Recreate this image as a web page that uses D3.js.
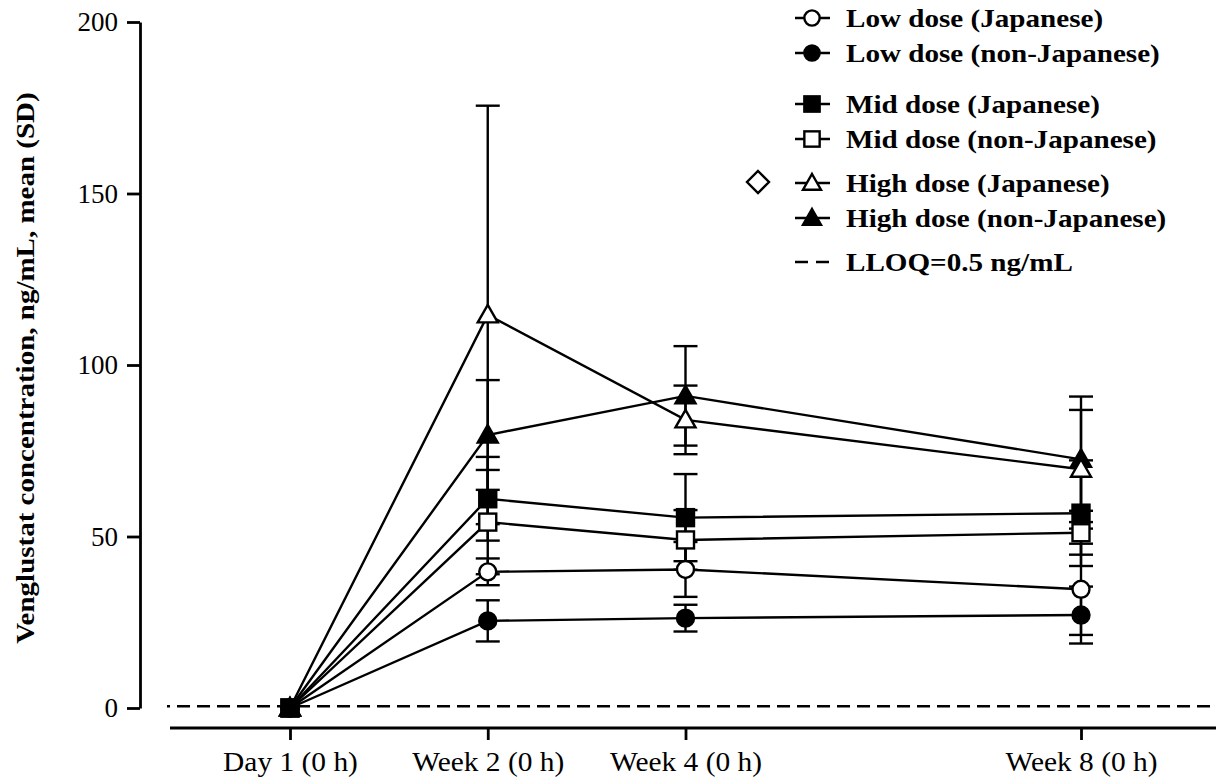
<!DOCTYPE html>
<html><head><meta charset="utf-8">
<script src="https://cdn.jsdelivr.net/npm/d3@7"></script>
<style>
html,body{margin:0;padding:0;background:#fff;}
svg{display:block;}
text{font-family:"Liberation Serif","Times New Roman",serif;fill:#000;}
</style></head>
<body>
<svg id="chart" width="1216" height="784"></svg>
<script>
const categories = ["Day 1 (0 h)", "Week 2 (0 h)", "Week 4 (0 h)", "Week 8 (0 h)"];
const studyDays = [0, 14, 28, 56];
const yTicks = [0, 50, 100, 150, 200];
const lloq = 0.5;

const seriesNames = ["Low dose (Japanese)", "Low dose (non-Japanese)", "Mid dose (Japanese)", "Mid dose (non-Japanese)", "High dose (Japanese)", "High dose (non-Japanese)"];
const lowJMean = [0, 39.7, 40.4, 34.6];
const lowJSD = [0, 3.9, 8.0, 13.3];
const lowNJMean = [0, 25.4, 26.2, 27.1];
const lowNJSD = [0, 6.0, 3.9, 8.3];
const midJMean = [0, 61.0, 55.5, 56.8];
const midJSD = [0, 12.2, 12.7, 15.4];
const midNJMean = [0, 54.2, 49.0, 51.1];
const midNJSD = [0, 15.2, 8.7, 6.4];
const highJMean = [0, 114.6, 84.0, 69.6];
const highJSD = [0, 61.0, 10.0, 17.3];
const highNJMean = [0, 79.6, 91.0, 72.5];
const highNJSD = [0, 16.0, 14.5, 18.3];

const series = [
  {name: seriesNames[0], mean: lowJMean, sd: lowJSD, shape: "circle", fill: "#fff"},
  {name: seriesNames[1], mean: lowNJMean, sd: lowNJSD, shape: "circle", fill: "#000"},
  {name: seriesNames[2], mean: midJMean, sd: midJSD, shape: "square", fill: "#000"},
  {name: seriesNames[3], mean: midNJMean, sd: midNJSD, shape: "square", fill: "#fff"},
  {name: seriesNames[4], mean: highJMean, sd: highJSD, shape: "triangle", fill: "#fff"},
  {name: seriesNames[5], mean: highNJMean, sd: highNJSD, shape: "triangle", fill: "#000"}
];
const drawOrder = [5, 4, 0, 3, 1, 2];

const svg = d3.select("#chart");
const x = d3.scaleLinear().domain([0, 56]).range([290, 1081]);
const y = d3.scaleLinear().domain([0, 200]).range([708, 22]);
const SW = 2.4;

// Y axis
const yAxis = svg.append("g").attr("transform", "translate(140,0)")
  .call(d3.axisLeft(y).tickValues(yTicks).tickSize(13).tickSizeOuter(0).tickPadding(9));
yAxis.select(".domain").attr("stroke-width", SW + 0.4);
yAxis.selectAll(".tick line").attr("stroke-width", SW + 0.4);
yAxis.selectAll(".tick text").attr("font-size", 27).attr("font-family", "Liberation Serif");

// X axis
const xAxisY = 728;
const xAxis = svg.append("g").attr("transform", `translate(0,${xAxisY})`)
  .call(d3.axisBottom(x).tickValues(studyDays).tickFormat((d, i) => categories[i]).tickSize(12).tickSizeOuter(0).tickPadding(12));
xAxis.select(".domain").remove();
xAxis.selectAll(".tick line").attr("stroke-width", SW + 0.4);
xAxis.selectAll(".tick text").attr("font-size", 27).attr("font-family", "Liberation Serif")
  .attr("transform", "scale(1.09,1)");
svg.append("line").attr("x1", 170).attr("x2", 1216).attr("y1", xAxisY).attr("y2", xAxisY)
  .attr("stroke", "#000").attr("stroke-width", SW + 0.4);

// Y title
svg.append("text").attr("transform", `translate(34,368) rotate(-90) scale(1.16,1)`)
  .attr("text-anchor", "middle").attr("font-weight", "bold").attr("font-size", 25)
  .text("Venglustat concentration, ng/mL, mean (SD)");

// LLOQ line
svg.append("line").attr("x1", 167).attr("x2", 1216).attr("y1", y(lloq)).attr("y2", y(lloq))
  .attr("stroke", "#000").attr("stroke-width", SW).attr("stroke-dasharray", "13,7").attr("stroke-dashoffset", 10);

// Error bars
const capW = 12;
series.forEach(s => {
  const g = svg.append("g");
  studyDays.forEach((d, i) => {
    if (s.sd[i] <= 0) return;
    const cx = x(d), hi = y(s.mean[i] + s.sd[i]), lo = y(s.mean[i] - s.sd[i]);
    g.append("line").attr("x1", cx).attr("x2", cx).attr("y1", hi).attr("y2", lo).attr("stroke", "#000").attr("stroke-width", SW);
    [hi, lo].forEach(yy => g.append("line").attr("x1", cx - capW).attr("x2", cx + capW).attr("y1", yy).attr("y2", yy).attr("stroke", "#000").attr("stroke-width", SW));
  });
});

// Lines
const line = d3.line().x((d, i) => x(studyDays[i])).y(d => y(d));
series.forEach(s => {
  svg.append("path").datum(s.mean).attr("d", line).attr("fill", "none").attr("stroke", "#000").attr("stroke-width", SW);
});

function marker(g, shape, fill, cx, cy, k = 1) {
  let el;
  if (shape === "circle") {
    el = g.append("circle").attr("cx", cx).attr("cy", cy).attr("r", 8.5 * k);
  } else if (shape === "square") {
    const h = 8.5 * k;
    el = g.append("rect").attr("x", cx - h).attr("y", cy - h).attr("width", 2 * h).attr("height", 2 * h);
  } else if (shape === "triangle") {
    el = g.append("path").attr("d", `M${cx},${cy - 10 * k}L${cx + 10 * k},${cy + 7.5 * k}L${cx - 10 * k},${cy + 7.5 * k}Z`);
  } else if (shape === "diamond") {
    el = g.append("path").attr("d", `M${cx},${cy - 11}L${cx + 11},${cy}L${cx},${cy + 11}L${cx - 11},${cy}Z`);
  }
  el.attr("fill", fill).attr("stroke", "#000").attr("stroke-width", SW);
}

// Markers
drawOrder.forEach(si => {
  const s = series[si];
  const g = svg.append("g");
  studyDays.forEach((d, i) => marker(g, s.shape, s.fill, x(d), y(s.mean[i])));
});

// Legend
const legendRows = [18, 53, 104, 139, 183, 218];
const lg = svg.append("g");
series.forEach((s, i) => {
  const cy = legendRows[i];
  lg.append("line").attr("x1", 795).attr("x2", 830).attr("y1", cy).attr("y2", cy).attr("stroke", "#000").attr("stroke-width", SW);
  marker(lg, s.shape, s.fill, 812, cy, 0.9);
  lg.append("text").attr("transform", `translate(846,${cy + 9}) scale(1.12,1)`)
    .attr("font-size", 26).attr("font-weight", "bold").text(s.name);
});
// LLOQ legend
lg.append("line").attr("x1", 795).attr("x2", 830).attr("y1", 262).attr("y2", 262).attr("stroke", "#000").attr("stroke-width", SW).attr("stroke-dasharray", "13,8");
lg.append("text").attr("transform", `translate(846,271) scale(1.12,1)`)
  .attr("font-size", 26).attr("font-weight", "bold").text("LLOQ=0.5 ng/mL");
// stray diamond symbol
marker(lg, "diamond", "#fff", 758, 182);
</script>
</body></html>
